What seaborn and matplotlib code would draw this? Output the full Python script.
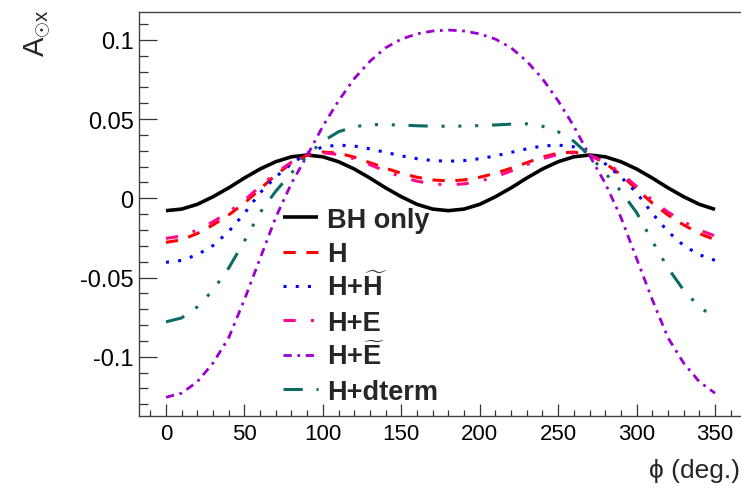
import numpy as np
import pandas as pd
import matplotlib
matplotlib.use("Agg")
import matplotlib.pyplot as plt
import seaborn as sns
from matplotlib.ticker import MultipleLocator, FixedLocator, FixedFormatter
from matplotlib.lines import Line2D

# ---------------- data ----------------
phi = [0, 10, 20, 30, 40, 50, 60, 70, 80, 90, 100, 110, 120, 130, 140, 150, 160, 170,
       180, 190, 200, 210, 220, 230, 240, 250, 260, 270, 280, 290, 300, 310, 320, 330, 340, 350]

bh_only = [-0.0078, -0.0068, -0.0038, 0.0010, 0.0066, 0.0128, 0.0185, 0.0231, 0.0262, 0.0273,
           0.0262, 0.0231, 0.0185, 0.0128, 0.0066, 0.0010, -0.0038, -0.0068, -0.0078, -0.0068,
           -0.0038, 0.0010, 0.0066, 0.0128, 0.0185, 0.0231, 0.0262, 0.0273, 0.0262, 0.0231,
           0.0185, 0.0128, 0.0066, 0.0010, -0.0038, -0.0070]

h_only = [-0.0278, -0.0262, -0.0222, -0.0168, -0.0105, -0.0030, 0.0058, 0.0148, 0.0222, 0.0272,
          0.0292, 0.0285, 0.0260, 0.0225, 0.0190, 0.0158, 0.0133, 0.0116, 0.0110, 0.0116,
          0.0133, 0.0158, 0.0190, 0.0225, 0.0260, 0.0285, 0.0292, 0.0272, 0.0222, 0.0148,
          0.0058, -0.0030, -0.0105, -0.0168, -0.0222, -0.0262]

h_htilde = [-0.0404, -0.0392, -0.0356, -0.0298, -0.0210, -0.0095, 0.0035, 0.0135, 0.0218, 0.0285,
            0.0325, 0.0336, 0.0330, 0.0312, 0.0290, 0.0268, 0.0250, 0.0238, 0.0234, 0.0238,
            0.0250, 0.0268, 0.0290, 0.0312, 0.0330, 0.0336, 0.0325, 0.0285, 0.0218, 0.0135,
            0.0035, -0.0095, -0.0210, -0.0298, -0.0356, -0.0392]

h_e = [-0.0253, -0.0238, -0.0200, -0.0148, -0.0087, -0.0012, 0.0075, 0.0160, 0.0228, 0.0272,
       0.0287, 0.0277, 0.0250, 0.0212, 0.0172, 0.0136, 0.0108, 0.0091, 0.0085, 0.0091,
       0.0108, 0.0136, 0.0172, 0.0212, 0.0250, 0.0277, 0.0287, 0.0272, 0.0228, 0.0160,
       0.0075, -0.0012, -0.0087, -0.0148, -0.0200, -0.0238]

h_etilde = [-0.1256, -0.1230, -0.1158, -0.1040, -0.0880, -0.0640, -0.0380, -0.0120, 0.0095, 0.0270,
            0.0455, 0.0615, 0.0755, 0.0865, 0.0950, 0.1005, 0.1038, 0.1056, 0.1062, 0.1056,
            0.1038, 0.1005, 0.0950, 0.0865, 0.0755, 0.0615, 0.0455, 0.0270, 0.0095, -0.0120,
            -0.0380, -0.0640, -0.0880, -0.1040, -0.1158, -0.1230]

h_dterm = [-0.0780, -0.0755, -0.0685, -0.0580, -0.0440, -0.0270, -0.0090, 0.0045, 0.0160, 0.0270,
           0.0360, 0.0420, 0.0452, 0.0465, 0.0465, 0.0462, 0.0458, 0.0455, 0.0455, 0.0456,
           0.0459, 0.0463, 0.0468, 0.0470, 0.0455, 0.0420, 0.0360, 0.0270, 0.0160, 0.0045,
           -0.0090, -0.0270, -0.0440, -0.0580, -0.0685, -0.0755]

series_keys = ["BH only", "H", "H+Ht", "H+E", "H+Et", "H+dterm"]
series_labels = ["BH only", "H", r"H+$\mathbf{\widetilde{H}}$", "H+E",
                 r"H+$\mathbf{\widetilde{E}}$", "H+dterm"]
series_values = [bh_only, h_only, h_htilde, h_e, h_etilde, h_dterm]

y_ticks = [-0.1, -0.05, 0, 0.05, 0.1]
y_tick_labels = ["-0.1", "-0.05", "0", "0.05", "0.1"]
x_ticks = [0, 50, 100, 150, 200, 250, 300, 350]
x_tick_labels = ["0", "50", "100", "150", "200", "250", "300", "350"]

# ---------------- styles ----------------
colors = {"BH only": "#000000", "H": "#ff0000", "H+Ht": "#0000ff",
          "H+E": "#ff0a8c", "H+Et": "#9a00d0", "H+dterm": "#0d6b66"}
dash_map = {"BH only": "", "H": (4, 3.5), "H+Ht": (1, 3),
            "H+E": (4, 5, 1, 5), "H+Et": (3, 2, 1, 2),
            "H+dterm": (6.3, 4.5, 1, 4.5, 1, 4.5, 1, 4.5)}
widths = {"BH only": 2.6, "H": 2.2, "H+Ht": 2.2, "H+E": 2.2, "H+Et": 2.0, "H+dterm": 2.2}

sns.set_style("white")
plt.rcParams["font.family"] = ["Liberation Sans", "DejaVu Sans"]
plt.rcParams["mathtext.fontset"] = "custom"
plt.rcParams["mathtext.rm"] = "Liberation Sans"
plt.rcParams["mathtext.bf"] = "Liberation Sans:bold"
plt.rcParams["mathtext.it"] = "Liberation Sans:italic"

df = pd.concat([pd.DataFrame({"phi": phi, "A": vals, "series": key})
                for key, vals in zip(series_keys, series_values)], ignore_index=True)

W, H = 741, 489
fig = plt.figure(figsize=(W / 100, H / 100), dpi=100)
ax = fig.add_axes([138.5 / W, (H - 417.3) / H, (742.5 - 138.5) / W, (417.3 - 13) / H])

sns.lineplot(data=df, x="phi", y="A", hue="series", style="series",
             hue_order=series_keys, style_order=series_keys,
             palette=colors, dashes=dash_map, linewidth=2.2, legend=False,
             sort=False, ax=ax)

for line, key in zip(ax.get_lines(), series_keys):
    line.set_linewidth(widths[key])
    line.set_solid_capstyle("butt")
    line.set_dash_capstyle("butt")

ax.set_xlim(-17.5, 367.5)
ax.set_ylim(-0.1376, 0.1176)

ax.xaxis.set_major_locator(FixedLocator(x_ticks))
ax.xaxis.set_major_formatter(FixedFormatter(x_tick_labels))
ax.xaxis.set_minor_locator(MultipleLocator(10))
ax.yaxis.set_major_locator(FixedLocator(y_ticks))
ax.yaxis.set_major_formatter(FixedFormatter(y_tick_labels))
ax.yaxis.set_minor_locator(MultipleLocator(0.01))

ax.tick_params(axis="both", which="both", direction="in", colors="#333333",
               labelcolor="#000000", width=0.9)
ax.tick_params(axis="y", which="major", length=13, pad=3.5, labelsize=17)
ax.tick_params(axis="y", which="minor", length=6.3)
ax.tick_params(axis="x", which="major", length=8.4, pad=5, labelsize=16)
ax.tick_params(axis="x", which="minor", length=4.3)
ax.tick_params(bottom=True, left=True, top=False, right=False, which="both")

for side in ["left", "bottom", "top", "right"]:
    ax.spines[side].set_color("#444444")
    ax.spines[side].set_linewidth(1.0)

ax.set_xlabel("")
ax.set_ylabel("")

fig.text(740 / W, 1 - 478 / H, "\u03d5 (deg.)", ha="right", va="baseline",
         fontsize=19, family=["Liberation Sans", "DejaVu Sans"])
fig.text(38 / W, 1 - 9 / H, r"$\mathrm{A}_{\odot\mathrm{x}}$", rotation=90,
         ha="center", va="top", fontsize=21)

# legend drawn as fixed rows (ROOT-style TLegend without frame)
row0, row_step = 218.3, 34.35
for i, (k, lab) in enumerate(zip(series_keys, series_labels)):
    yc = row0 + row_step * i
    ln = Line2D([283 / W, 318 / W], [1 - yc / H, 1 - yc / H], transform=fig.transFigure,
                color=colors[k], lw=widths[k], solid_capstyle="butt", dash_capstyle="butt")
    if dash_map[k]:
        ln.set_dashes(dash_map[k])
    fig.add_artist(ln)
    fig.text(326.7 / W, 1 - (yc + 9.5) / H, lab, ha="left", va="baseline",
             fontsize=19.5, fontweight="bold", family=["Liberation Sans", "DejaVu Sans"])

fig.savefig("out.png", dpi=100, facecolor="white")
